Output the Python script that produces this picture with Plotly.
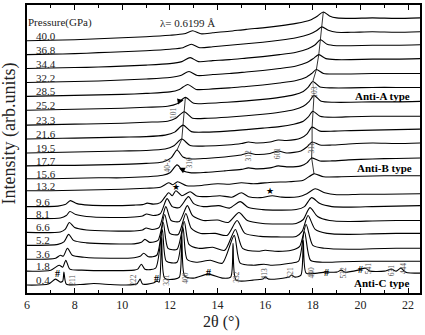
import plotly.graph_objects as go

# High-pressure XRD patterns (2theta in degrees, intensity in arb. units above each pattern's baseline)
pressures = ["0.4", "1.8", "3.6", "5.2", "6.6", "8.1", "9.6", "13.2", "15.6", "17.7",
             "19.5", "21.6", "23.3", "25.2", "28.5", "32.2", "34.4", "36.8", "40.0"]
offsets = [8, 22, 34, 48, 61, 75, 87, 103, 115, 128, 141, 155, 169, 184, 198, 212, 226, 240, 254]

p0_4 = [(6.0, 0), (6.9, 1), (7.2, 6), (7.4, 3), (7.5, 4), (7.55, 13), (7.65, 1), (8.2, 0.5), (8.8, 1.5),
        (9.5, 0.5), (10.6, 1), (10.75, 6), (10.85, 1), (11.3, 2), (11.45, 4), (11.55, 3), (11.65, 48),
        (11.78, 7), (12.2, 6), (12.4, 8), (12.5, 50), (12.62, 9), (13.0, 7), (13.6, 11), (14.2, 7),
        (14.55, 8), (14.65, 42), (14.78, 5), (15.5, 5), (15.9, 6), (16.0, 8), (16.15, 6), (17.0, 8),
        (17.1, 10), (17.25, 8), (17.5, 10), (17.6, 45), (17.72, 12), (18.2, 12), (18.5, 13), (19.0, 13),
        (19.2, 15), (19.35, 13), (19.9, 15), (20.2, 17), (20.4, 14), (21.0, 14), (21.3, 16), (21.5, 14),
        (21.7, 17), (21.9, 13), (22.5, 12)]
p1_8 = [(6.0, 0), (7.0, 1), (7.35, 6), (7.5, 4), (7.63, 11), (7.8, 2), (8.3, 1), (9.5, 0.5), (10.5, 1),
        (10.65, 2), (10.8, 7), (10.95, 2), (11.4, 3), (11.68, 42), (11.85, 10), (12.3, 9), (12.55, 44),
        (12.72, 12), (13.1, 9), (13.7, 11), (14.2, 8), (14.7, 36), (14.95, 8), (15.5, 6), (15.95, 7),
        (16.3, 6), (17.05, 8), (17.4, 10), (17.65, 40), (17.9, 11), (18.4, 9), (19.2, 9.5), (20.2, 10),
        (21.3, 10), (22.5, 10)]
p3_6 = [(6.0, 0), (7.2, 1), (7.4, 4), (7.52, 3), (7.7, 11), (7.9, 4), (8.4, 2), (9.5, 1), (10.5, 1.5),
        (10.75, 3), (10.9, 6), (11.1, 2.5), (11.45, 4), (11.72, 37), (11.92, 11), (12.3, 10), (12.6, 38),
        (12.8, 15), (13.2, 11), (13.8, 12), (14.3, 9), (14.75, 30), (15.05, 11), (15.7, 8), (16.0, 9),
        (16.4, 8), (17.1, 9), (17.45, 13), (17.72, 35), (18.0, 14), (18.5, 11), (19.5, 10), (20.5, 10.5),
        (21.5, 11), (22.5, 11)]
p5_2 = [(6.0, 0), (7.3, 1), (7.55, 3.5), (7.75, 11), (7.95, 5), (8.5, 2.5), (9.5, 1.5), (10.5, 1.5),
        (10.8, 3), (10.95, 6), (11.15, 3), (11.5, 5), (11.78, 31), (12.0, 12), (12.35, 11), (12.67, 32),
        (12.9, 17), (13.3, 12), (13.9, 12), (14.4, 10), (14.82, 25), (15.15, 12), (15.8, 9), (16.5, 8.5),
        (17.3, 9), (17.55, 14), (17.8, 30), (18.1, 16), (18.6, 12), (19.5, 11), (20.5, 11.5), (21.5, 12),
        (22.5, 12)]
p6_6 = [(6.0, 0), (7.4, 0.5), (7.6, 3), (7.78, 10), (8.0, 5), (8.5, 2.5), (9.5, 1.5), (10.5, 1.5),
        (10.85, 2.5), (11.0, 4.5), (11.25, 3), (11.55, 5), (11.83, 26), (12.05, 12), (12.4, 11),
        (12.73, 27), (12.95, 17), (13.4, 12), (14.0, 12.5), (14.45, 10), (14.9, 20), (15.25, 12),
        (15.9, 9), (16.5, 8.5), (17.3, 9), (17.6, 13), (17.88, 25), (18.2, 16), (18.7, 12), (19.5, 11),
        (20.5, 11.5), (21.5, 12), (22.5, 12)]
p8_1 = [(6.0, 0), (7.4, 0.5), (7.65, 3), (7.8, 7), (8.05, 4), (8.5, 2), (9.5, 1), (10.5, 1.5),
        (10.85, 2.5), (11.02, 4.5), (11.3, 3), (11.6, 5), (11.88, 20), (12.1, 12), (12.4, 11),
        (12.78, 22), (13.0, 15), (13.4, 12), (14.05, 13), (14.5, 10.5), (14.95, 17), (15.3, 11),
        (15.9, 9), (16.5, 8.5), (17.3, 9), (17.65, 12), (17.95, 21), (18.3, 15), (18.8, 12),
        (19.6, 11.5), (20.5, 12), (21.5, 12.5), (22.5, 13)]
p9_6 = [(6.0, 0), (7.3, 0.5), (7.6, 2), (7.82, 6), (8.1, 3), (8.6, 1.5), (9.5, 1), (10.5, 1.5),
        (10.85, 2), (11.05, 3.5), (11.3, 2.5), (11.6, 4), (11.95, 14), (12.1, 11), (12.25, 16),
        (12.5, 11), (12.85, 15), (13.1, 11), (13.5, 10), (14.1, 11), (14.6, 9.5), (15.0, 14), (15.3, 10),
        (15.8, 9), (16.3, 11), (16.7, 9.5), (17.4, 10), (17.75, 13), (18.1, 18), (18.5, 14), (19.0, 12),
        (20.0, 12.5), (21.0, 12.5), (22.5, 13)]
p13_2 = [(6.0, 0), (7.0, 0), (8.0, 0.5), (9.0, 1), (10.0, 1.5), (11.0, 2.5), (11.6, 3.5), (11.95, 8),
         (12.12, 6), (12.32, 9), (12.7, 5), (13.2, 5), (14.0, 7), (14.5, 6.5), (15.0, 8), (15.5, 7),
         (16.3, 8.5), (17.0, 9), (17.6, 10.5), (18.05, 17), (18.45, 14), (19.2, 14), (20.0, 14.5),
         (21.0, 15), (22.5, 15)]
p15_6 = [(6.0, 0), (7.0, 0), (8.0, 0.5), (9.0, 1), (10.0, 1), (11.0, 2), (11.7, 3.5), (12.0, 6),
         (12.3, 14), (12.55, 8), (12.9, 6), (13.5, 6.5), (14.3, 8), (15.0, 9.5), (15.3, 11), (15.6, 10),
         (16.2, 11), (16.55, 13), (16.9, 12), (17.5, 13), (17.75, 16), (17.95, 21), (18.3, 18),
         (18.8, 18), (19.5, 19), (20.5, 20), (21.5, 20.5), (22.5, 21)]
p17_7 = [(6.0, 0), (7.0, 0.5), (8.0, 0.5), (9.0, 1), (10.0, 1.5), (11.0, 2.5), (11.7, 4), (12.05, 8),
         (12.3, 16), (12.55, 9), (12.9, 7), (13.5, 7.5), (14.3, 9), (15.0, 11), (15.3, 13), (15.6, 11.5),
         (16.2, 12.5), (16.55, 15), (16.9, 13), (17.5, 15), (17.75, 19), (17.97, 24), (18.3, 21),
         (18.8, 21), (19.5, 22), (20.5, 23), (21.5, 22.5), (22.5, 23)]
p19_5 = [(6.0, 0), (7.0, 0.5), (8.0, 1), (9.0, 1.5), (10.0, 2), (11.0, 2.5), (11.8, 4), (12.15, 7),
         (12.5, 14), (12.85, 7.5), (13.5, 7), (14.4, 8), (15.0, 9.5), (15.3, 11), (15.6, 10), (16.2, 11),
         (16.55, 13), (16.9, 12.5), (17.5, 15), (17.75, 19), (17.97, 26), (18.3, 22), (18.9, 22),
         (19.6, 22.5), (20.5, 23), (21.5, 23.5), (22.5, 24)]
p21_6 = [(6.0, 0), (7.0, 0.5), (8.0, 1), (9.0, 1.5), (10.0, 2), (11.0, 2.5), (11.8, 4), (12.2, 7),
         (12.55, 14), (12.9, 7.5), (13.5, 7), (14.4, 8), (15.2, 9.5), (15.9, 11), (16.6, 12.5), (17.2, 15),
         (17.6, 18), (17.8, 22), (18.0, 28), (18.3, 23), (18.9, 22), (19.6, 22.5), (20.5, 23), (21.5, 23),
         (22.5, 23)]
p23_3 = [(6.0, 0), (7.0, 0.5), (8.0, 1), (9.0, 1.5), (10.0, 2), (11.0, 3), (11.9, 4), (12.25, 7),
         (12.6, 13.5), (12.95, 7), (13.6, 7), (14.4, 8), (15.2, 9.5), (15.9, 11), (16.6, 13), (17.2, 15.5),
         (17.6, 19), (17.85, 24), (18.05, 30), (18.35, 24), (18.9, 23), (19.6, 23), (20.5, 23.5),
         (21.5, 23.5), (22.5, 24)]
p25_2 = [(6.0, 0), (7.0, 0.5), (8.0, 1), (9.0, 1.5), (10.0, 2), (11.0, 3), (11.9, 4), (12.3, 6.5),
         (12.65, 13), (13.0, 7), (13.6, 7), (14.4, 8), (15.2, 9.5), (15.9, 11), (16.6, 13), (17.2, 15.5),
         (17.6, 19), (17.8, 23), (18.0, 29), (18.3, 23.5), (18.8, 22.5), (19.6, 22.5), (20.5, 23),
         (21.5, 23), (22.5, 23)]
p28_5 = [(6.0, 0), (7.0, 0.5), (8.0, 1), (9.0, 1.5), (10.0, 2), (11.0, 3), (12.0, 4.5), (12.4, 7),
         (12.75, 12), (13.1, 7), (13.8, 7.5), (14.5, 8.5), (15.2, 10), (15.9, 11.5), (16.6, 13.5),
         (17.3, 16), (17.7, 19), (17.95, 23), (18.15, 27), (18.45, 23), (19.0, 22.5), (19.6, 22.5),
         (20.5, 23), (21.5, 23), (22.5, 23)]
p32_2 = [(6.0, 0), (7.0, 0.5), (8.0, 1), (9.0, 1.5), (10.0, 2.5), (11.0, 3.5), (12.0, 5), (12.45, 7),
         (12.8, 11), (13.15, 7), (13.8, 8), (14.5, 9), (15.2, 10.5), (15.9, 12), (16.6, 14), (17.3, 16.5),
         (17.75, 20), (18.02, 24), (18.25, 28), (18.55, 24), (19.0, 23), (19.6, 23), (20.5, 23.5),
         (21.5, 23.5), (22.5, 24)]
p34_4 = [(6.0, 0), (7.0, 0.5), (8.0, 1), (9.0, 1.5), (10.0, 2.5), (11.0, 3.5), (12.0, 5), (12.5, 7),
         (12.85, 11), (13.2, 7), (13.8, 8), (14.5, 9), (15.2, 10.5), (15.9, 12), (16.6, 14), (17.3, 16.5),
         (17.8, 20), (18.1, 24), (18.32, 29), (18.6, 24.5), (19.0, 23), (19.6, 23), (20.5, 23.5),
         (21.5, 23.5), (22.5, 24)]
p36_8 = [(6.0, 0), (7.0, 0.5), (8.0, 1), (9.0, 2), (10.0, 3), (11.0, 4), (12.0, 5.5), (12.55, 7),
         (12.9, 10.5), (13.25, 7), (13.8, 8), (14.5, 9.5), (15.2, 11), (15.9, 12.5), (16.6, 14.5),
         (17.3, 17), (17.85, 20.5), (18.15, 24), (18.38, 28), (18.65, 24.5), (19.0, 22.5), (19.6, 22.5),
         (20.5, 23), (21.5, 22.5), (22.5, 23)]
p40_0 = [(6.0, 0), (7.0, 0.5), (8.0, 1), (9.0, 2), (10.0, 3), (11.0, 4), (12.0, 5.5), (12.6, 7),
         (12.95, 10), (13.3, 7), (13.8, 8), (14.5, 9.5), (15.2, 11.5), (15.9, 13), (16.6, 15), (17.3, 17.5),
         (17.9, 21), (18.2, 25), (18.44, 29), (18.7, 25), (19.0, 23), (19.6, 22.5), (20.5, 23),
         (21.5, 22.5), (22.5, 23)]

patterns = [p0_4, p1_8, p3_6, p5_2, p6_6, p8_1, p9_6, p13_2, p15_6, p17_7,
            p19_5, p21_6, p23_3, p25_2, p28_5, p32_2, p34_4, p36_8, p40_0]

# Reflection indices (2theta, height above axis) for the 0.4 GPa cubic phase
hkl_c = ["211", "222", "321", "400", "332", "413", "521", "440", "532", "541", "631", "444"]
hkl_c_pos = [(7.88, 13), (10.44, 13), (11.86, 13), (12.62, 15), (14.8, 16), (15.97, 20),
             (17.06, 21), (17.94, 21), (19.28, 21), (20.32, 25), (21.29, 23), (21.79, 25)]
hkl_hp = ["101", "40-2", "310", "312", "601", "311", "103"]
hkl_hp_pos = [(12.12, 181), (11.9, 128), (12.83, 131), (15.3, 138), (16.55, 141), (17.94, 146), (18.06, 203)]
impurity_pos = [(7.26, 20), (11.44, 15), (13.62, 21), (18.57, 21), (19.99, 24)]
star_pos = [(12.24, 107), (16.22, 103)]

SERIF = "Liberation Serif"
fig = go.Figure()

for pts, off in zip(patterns, offsets):
    fig.add_trace(go.Scatter(
        x=[p[0] for p in pts], y=[p[1] + off for p in pts], mode="lines",
        line=dict(color="black", width=1.1, shape="spline", smoothing=0.7),
        hoverinfo="skip", showlegend=False))


def top(idx, lo, hi):
    pts = [p for p in patterns[idx] if lo <= p[0] <= hi]
    x, y = max(pts, key=lambda p: p[1])
    return x, y + offsets[idx]


# guide lines following the peak shifts
ridge_a = [top(i, 17.6, 18.8) for i in range(18, 12, -1)]
ridge_b = [top(i, 17.6, 18.8) for i in range(13, 11, -1)]
ridge_c = [top(i, 17.6, 18.8) for i in range(12, 6, -1)]
ridge_d = [top(i, 12.2, 13.1) for i in range(13, 8, -1)]
for seg, col in [(ridge_a, "black"), (ridge_b, "#888888"), (ridge_c, "black"), (ridge_d, "black")]:
    fig.add_trace(go.Scatter(x=[p[0] for p in seg], y=[p[1] for p in seg], mode="lines",
                             line=dict(color=col, width=0.8), hoverinfo="skip", showlegend=False))

ann = []
for lab, off in zip(pressures, offsets):
    ann.append(dict(x=6.29, y=off + 5, text=lab, showarrow=False, xanchor="left", yanchor="middle",
                    font=dict(family=SERIF, size=11, color="#222")))
for lab, (x, y) in zip(hkl_c + hkl_hp, hkl_c_pos + hkl_hp_pos):
    ann.append(dict(x=x, y=y, text=lab, showarrow=False, textangle=-90,
                    font=dict(family=SERIF, size=7.5, color="#555")))
for x, y in impurity_pos:
    ann.append(dict(x=x, y=y, text="<b>#</b>", showarrow=False, font=dict(family=SERIF, size=10, color="black")))
for x, y in star_pos:
    ann.append(dict(x=x, y=y, text="★", showarrow=False, font=dict(family="DejaVu Sans", size=9, color="black")))

# small arrows to the marked reflections
for idx, lo, hi, dx, dy in [(13, 12.2, 13.1, -0.3, -4), (8, 12.1, 12.5, 0.25, -5)]:
    px, py = top(idx, lo, hi)
    ann.append(dict(x=px + (-0.08 if dx < 0 else 0.08), y=py - 3, ax=px + dx, ay=py + dy,
                    xref="x", yref="y", axref="x", ayref="y", text="", showarrow=True,
                    arrowhead=2, arrowsize=0.8, arrowwidth=1.5, arrowcolor="black"))

ann += [
    dict(x=7.38, y=272, text="Pressure(GPa)", showarrow=False, font=dict(family=SERIF, size=11, color="#222")),
    dict(x=12.74, y=272, text="λ= 0.6199 Å", showarrow=False, font=dict(family=SERIF, size=11, color="#222")),
    dict(x=20.91, y=198, text="<b>Anti-A type</b>", showarrow=False, font=dict(family=SERIF, size=11, color="black")),
    dict(x=21.0, y=126, text="<b>Anti-B type</b>", showarrow=False, font=dict(family=SERIF, size=11, color="black")),
    dict(x=20.87, y=10, text="<b>Anti-C type</b>", showarrow=False, font=dict(family=SERIF, size=11, color="black")),
    dict(x=-0.045, y=0.555, xref="paper", yref="paper", xanchor="center", yanchor="middle",
         text="Intensity (arb.units)", showarrow=False, textangle=-90,
         font=dict(family=SERIF, size=18, color="#222")),
    dict(x=0.495, y=-0.1, xref="paper", yref="paper", xanchor="center", yanchor="middle",
         text="2θ (°)", showarrow=False, font=dict(family=SERIF, size=16, color="#222")),
]

fig.update_layout(
    width=425, height=335, margin=dict(l=27, r=4, t=3, b=42),
    plot_bgcolor="white", paper_bgcolor="white", annotations=ann,
    xaxis=dict(range=[6, 22.5], tickvals=list(range(6, 23, 2)), ticks="inside", ticklen=5, tickwidth=1.2,
               tickcolor="black", minor=dict(tickvals=list(range(7, 23, 2)), ticks="inside", ticklen=3,
                                             tickcolor="black"),
               showline=True, linecolor="black", linewidth=1.5, mirror="allticks", showgrid=False,
               zeroline=False, tickfont=dict(family=SERIF, size=12, color="#222")),
    yaxis=dict(range=[0, 290], showticklabels=False, ticks="", showline=True, linecolor="black",
               linewidth=1.5, mirror=True, showgrid=False, zeroline=False),
)

fig.write_html("out.html")
